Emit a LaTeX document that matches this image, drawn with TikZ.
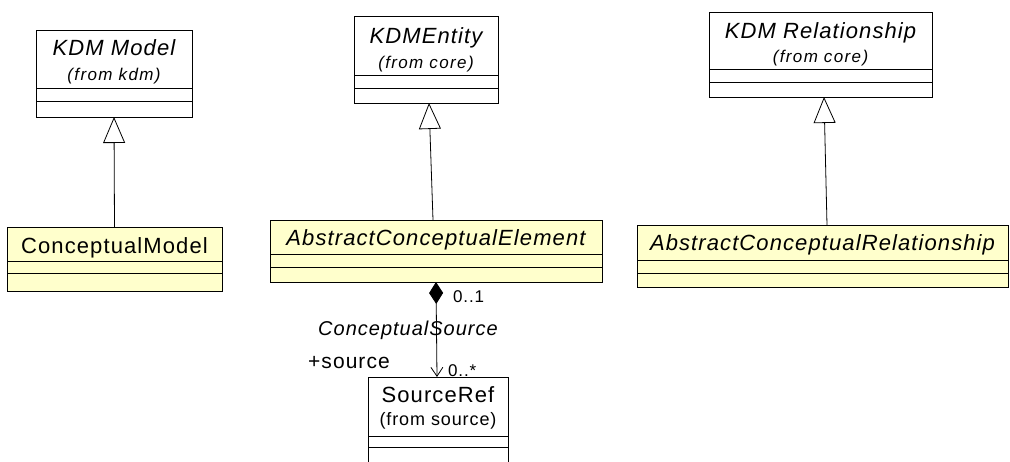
\documentclass[tikz,border=0pt]{standalone}
\usepackage{fontspec}
\setmainfont{Liberation Sans}
\usetikzlibrary{arrows.meta,positioning}
\newfontfamily\umlsans[LetterSpace=5]{Liberation Sans}
\newfontfamily\umlfrom[LetterSpace=8]{Liberation Sans}
\definecolor{umlyellow}{RGB}{255,255,204}

\tikzset{
  cbox/.style={draw, rectangle, inner sep=0pt, outer sep=0pt, line width=1pt},
  ybox/.style={cbox, fill=umlyellow},
  cname/.style={anchor=base, inner sep=0pt, font=\umlsans\fontsize{22}{26}\selectfont},
  iname/.style={cname, font=\umlsans\fontsize{22}{26}\selectfont\itshape},
  cfrom/.style={anchor=base, inner sep=0pt, font=\umlfrom\fontsize{17}{20}\selectfont\itshape},
  gen/.style={line width=0.8pt, -{Triangle[open,length=26pt,width=22pt]}},
  comp/.style={line width=0.8pt, {Diamond[length=22pt,width=14pt]}-{Straight Barb[length=9pt,width=12pt]}},
  rlabel/.style={anchor=base west, inner sep=0pt, font=\umlsans\fontsize{17}{20}\selectfont}
}

\begin{document}
\begin{tikzpicture}[x=1pt, y=-1pt]
\clip (0,0) rectangle (1010,461);

% KDMModel
\node[cbox, minimum width=156pt, minimum height=58pt] (kmodel) at (114,59) {};
\node[cbox, minimum width=156pt, minimum height=13pt, below=0pt of kmodel] (kmodelA) {};
\node[cbox, minimum width=156pt, minimum height=16pt, below=0pt of kmodelA] (kmodelO) {};
\node[iname] (kmodelT) at (114,55) {KDM Model};
\node[cfrom] (kmodelF) at (114,80) {(from kdm)};

% KDMEntity
\node[cbox, minimum width=144pt, minimum height=59pt] (kent) at (426,45.5) {};
\node[cbox, minimum width=144pt, minimum height=13pt, below=0pt of kent] (kentA) {};
\node[cbox, minimum width=144pt, minimum height=15pt, below=0pt of kentA] (kentO) {};
\node[iname] (kentT) at (426,43) {KDMEntity};
\node[cfrom] (kentF) at (426,68) {(from core)};

% KDMRelationship
\node[cbox, minimum width=223pt, minimum height=57pt] (krel) at (820.5,40.5) {};
\node[cbox, minimum width=223pt, minimum height=13pt, below=0pt of krel] (krelA) {};
\node[cbox, minimum width=223pt, minimum height=15pt, below=0pt of krelA] (krelO) {};
\node[iname] (krelT) at (820.5,38) {KDM Relationship};
\node[cfrom] (krelF) at (820.5,62) {(from core)};

% ConceptualModel
\node[ybox, minimum width=215pt, minimum height=34pt] (cmodel) at (114.5,244) {};
\node[ybox, minimum width=215pt, minimum height=12pt, below=0pt of cmodel] (cmodelA) {};
\node[ybox, minimum width=215pt, minimum height=18pt, below=0pt of cmodelA] (cmodelO) {};
\node[cname] (cmodelT) at (114.5,253) {ConceptualModel};

% AbstractConceptualElement
\node[ybox, minimum width=332pt, minimum height=34pt] (ace) at (436,237) {};
\node[ybox, minimum width=332pt, minimum height=13pt, below=0pt of ace] (aceA) {};
\node[ybox, minimum width=332pt, minimum height=15pt, below=0pt of aceA] (aceO) {};
\node[iname] (aceT) at (436,245) {AbstractConceptualElement};

% AbstractConceptualRelationship
\node[ybox, minimum width=371pt, minimum height=35pt] (acr) at (822.5,242.5) {};
\node[ybox, minimum width=371pt, minimum height=13pt, below=0pt of acr] (acrA) {};
\node[ybox, minimum width=371pt, minimum height=14pt, below=0pt of acrA] (acrO) {};
\node[iname] (acrT) at (822.5,250) {AbstractConceptualRelationship};

% SourceRef
\node[cbox, minimum width=140pt, minimum height=59pt] (sref) at (438,406.5) {};
\node[cbox, minimum width=140pt, minimum height=11pt, below=0pt of sref] (srefA) {};
\node[cbox, minimum width=140pt, minimum height=24pt, below=0pt of srefA] (srefO) {};
\node[cname] (srefT) at (438,402) {SourceRef};
\node[cfrom, font=\umlsans\fontsize{18}{20}\selectfont] (srefF) at (438,425) {(from source)};

% generalizations
\draw[gen] (cmodel.north) -- (kmodelO.south);
\draw[gen] ([xshift=-3pt]ace.north) -- ([xshift=3pt]kentO.south);
\draw[gen] ([xshift=4.5pt]acr.north) -- ([xshift=3.5pt]krelO.south);

% composition
\draw[comp] (aceO.south) -- ([xshift=-1pt]sref.north);
\node[rlabel] (mult1) at (453,302) {0..1};
\node[rlabel, font=\umlsans\fontsize{20}{24}\selectfont\itshape] (assoc) at (318,335) {ConceptualSource};
\node[rlabel, font=\umlsans\fontsize{21}{24}\selectfont] (role) at (308,368) {+source};
\node[rlabel] (mult2) at (448,376) {0..*};
\end{tikzpicture}
\end{document}
